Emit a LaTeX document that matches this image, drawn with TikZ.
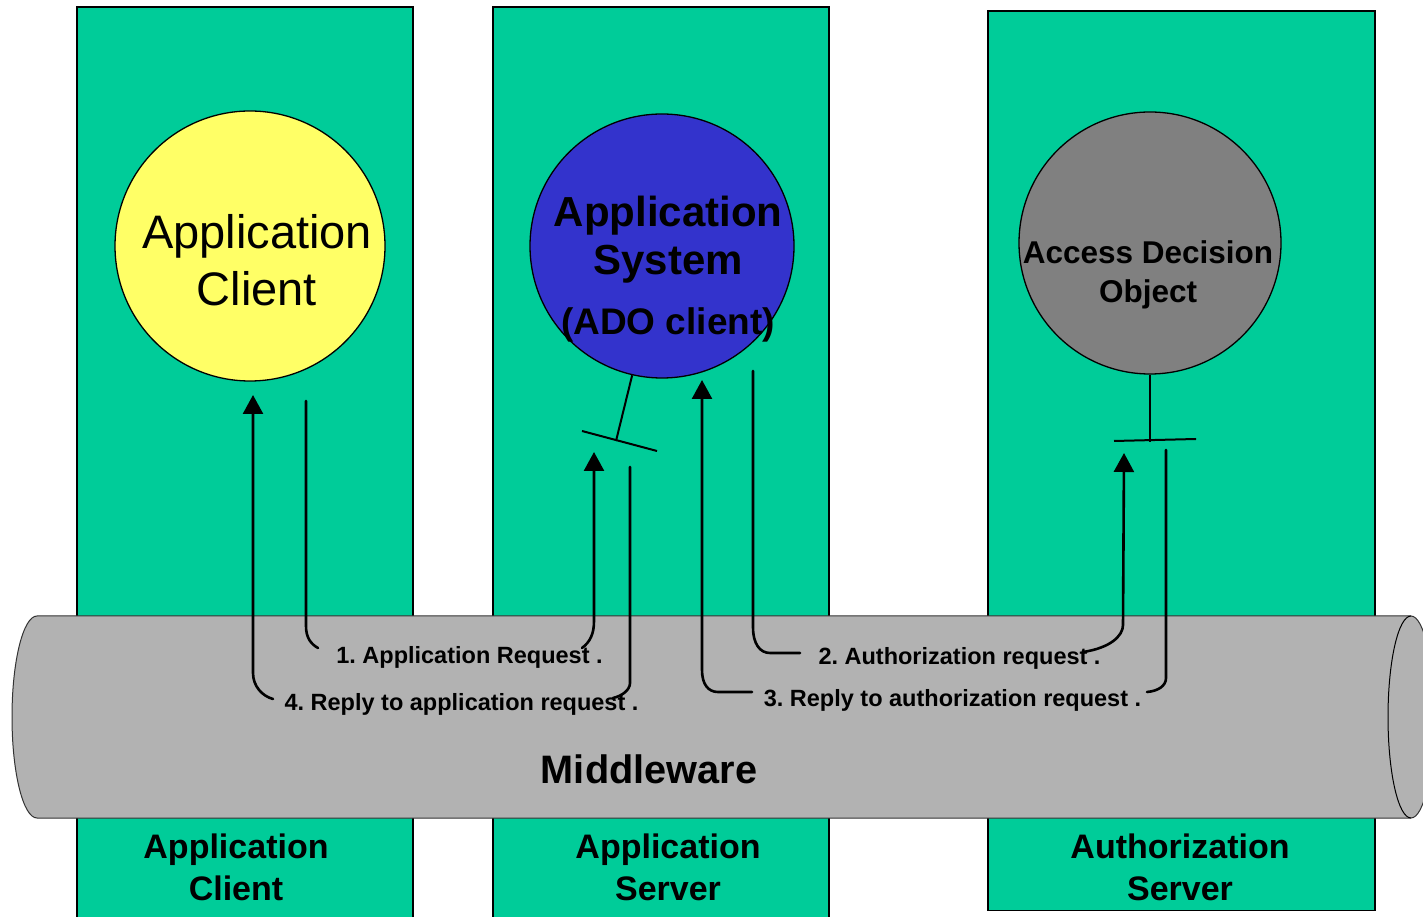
\documentclass[tikz,border=0pt]{standalone}
\usepackage{fontspec}
\setmainfont{Liberation Sans}
\usetikzlibrary{arrows.meta}
\frenchspacing
\definecolor{colgreen}{HTML}{00CC99}
\definecolor{cliyellow}{HTML}{FFFF66}
\definecolor{sysblue}{HTML}{3333CC}
\definecolor{adogray}{HTML}{808080}
\definecolor{mwgray}{HTML}{B2B2B2}
\definecolor{mwedge}{HTML}{333333}
\tikzset{
  colbox/.style={draw=black, line width=1.5pt, fill=colgreen, inner sep=0pt, anchor=south west},
  ball/.style={circle, draw=black, line width=1.3pt, inner sep=0pt},
  conn/.style={draw=black, line width=2.6pt, line cap=round},
  connarrow/.style={conn, -{Triangle[length=19pt,width=20pt]}},
  plug/.style={draw=black, line width=2pt},
  steplabel/.style={font=\fontsize{23.5}{27}\selectfont\bfseries, inner sep=0pt},
  collabel/.style={font=\fontsize{34}{42}\selectfont\bfseries, align=center, inner sep=0pt},
}
\begin{document}
\begin{tikzpicture}[x=1pt,y=1pt]
\useasboundingbox (0,0) rectangle (1423,916);
% columns
\node[colbox, minimum width=336pt, minimum height=912pt] (col1) at (76,-4) {};
\node[colbox, minimum width=336pt, minimum height=912pt] (col2) at (492,-4) {};
\node[colbox, minimum width=387pt, minimum height=899pt] (col3) at (987,5) {};
% balls
\node[ball, fill=cliyellow, minimum size=270pt] (client) at (250,670) {};
\node[ball, fill=sysblue, minimum size=264pt] (sys) at (662,670) {};
\node[ball, fill=adogray, minimum size=262pt] (ado) at (1150,673) {};
\node[font=\fontsize{47}{57}\selectfont, align=center, inner sep=0pt] (clienttxt) at (257,656) {Application\\Client};
\node[font=\fontsize{42}{48}\selectfont\bfseries, align=center, inner sep=0pt] (systxt) at (668,647) {Application\\System\\[12pt]{\fontsize{37}{44}\selectfont (ADO client)}};
\node[font=\fontsize{31.5}{39}\selectfont\bfseries, align=center, inner sep=0pt] (adotxt) at (1148,641) {Access Decision\\Object};
% interfaces
\coordinate (sysplug) at (616,475);
\coordinate (adoplug) at (1150,474);
\draw[plug] (sys.257) -- (sysplug);
\draw[plug] (582,485) -- (657,465);
\draw[plug] (ado.south) -- (adoplug);
\draw[plug] (1114,475) -- (1196,477);
% middleware cylinder
\draw[fill=mwgray, draw=mwedge, line width=1pt]
  (37,98) -- (1411,98) arc[start angle=-90, end angle=90, x radius=23, y radius=101]
  -- (37,300) arc[start angle=90, end angle=270, x radius=25, y radius=101] -- cycle;
\draw[draw=black, line width=1pt] (1411,300) arc[start angle=90, end angle=270, x radius=23, y radius=101];
\node[font=\fontsize{39.7}{46}\selectfont\bfseries, inner sep=0pt] (mw) at (649,147) {Middleware};
% column labels
\node[collabel] (lab1) at (236,49) {Application\\Client};
\node[collabel] (lab2) at (668,49) {Application\\Server};
\node[collabel] (lab3) at (1180,49) {Authorization\\Server};
% step labels
\node[steplabel] (s1) at (469.5,259) {1. Application Request .};
\node[steplabel] (s4) at (461.5,212) {4. Reply to application request .};
\node[steplabel] (s2) at (959.5,258) {2. Authorization request .};
\node[steplabel] (s3) at (952.5,216) {3. Reply to authorization request .};
% connector end points
\coordinate (a1s) at (306,515);
\coordinate (a1e) at (594,464);
\coordinate (a4s) at (630,449);
\coordinate (a4e) at (253,521);
\coordinate (a2s) at (753,545);
\coordinate (a2e) at (1124,463);
\coordinate (a3s) at (1166,466);
\coordinate (a3e) at (702,536);
% 1
\draw[conn] (a1s) -- (306,290) .. controls (306,278) and (311,272) .. (318,268);
\draw[connarrow] (582,268) .. controls (590,274) and (594,282) .. (594,295) -- (a1e);
% 4
\draw[conn] (a4s) -- (630,233) .. controls (630,226) and (622,220) .. (613,218);
\draw[connarrow] (273,217) .. controls (262,220) and (253,230) .. (253,243) -- (a4e);
% 2
\draw[conn] (a2s) -- (753,289) .. controls (753,272) and (760,263) .. (770,263) -- (800,263);
\draw[connarrow] (1083,264) .. controls (1110,268) and (1123,280) .. (1123,291) -- (a2e);
% 3
\draw[conn] (a3s) -- (1166,238) .. controls (1166,230) and (1158,225) .. (1147,224);
\draw[connarrow] (752,224) -- (718,224) .. controls (708,224) and (702,232) .. (702,246) -- (a3e);
\end{tikzpicture}
\end{document}
